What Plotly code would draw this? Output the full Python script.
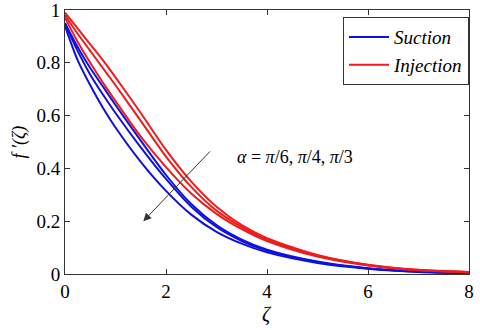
import plotly.graph_objects as go

zeta = [0, 0.25, 0.5, 0.75, 1, 1.5, 2, 2.5, 3, 3.5, 4, 5, 6, 7, 8]

# suction (blue), alpha = pi/6, pi/4, pi/3
suction_1 = [0.94, 0.81, 0.715, 0.63, 0.555, 0.425, 0.315, 0.225, 0.16, 0.115, 0.082, 0.042, 0.020, 0.008, 0.003]
suction_2 = [0.95, 0.845, 0.755, 0.68, 0.61, 0.48, 0.36, 0.255, 0.178, 0.125, 0.088, 0.045, 0.021, 0.009, 0.003]
suction_3 = [0.95, 0.86, 0.78, 0.71, 0.64, 0.505, 0.375, 0.265, 0.185, 0.13, 0.092, 0.047, 0.022, 0.009, 0.004]

# injection (red)
injection_1 = [0.97, 0.88, 0.80, 0.725, 0.655, 0.52, 0.405, 0.305, 0.228, 0.17, 0.125, 0.066, 0.032, 0.014, 0.006]
injection_2 = [0.98, 0.91, 0.845, 0.78, 0.715, 0.58, 0.445, 0.33, 0.24, 0.178, 0.13, 0.069, 0.034, 0.015, 0.007]
injection_3 = [0.99, 0.93, 0.87, 0.81, 0.745, 0.61, 0.47, 0.35, 0.255, 0.185, 0.136, 0.072, 0.035, 0.016, 0.008]

x_ticks = [0, 2, 4, 6, 8]
y_ticks = [0, 0.2, 0.4, 0.6, 0.8, 1]

serif = "Times New Roman, Liberation Serif, Tinos, DejaVu Serif, serif"
blue = "#1010e0"
red = "#ee1c1c"

fig = go.Figure()

for i, ys in enumerate([suction_1, suction_2, suction_3]):
    fig.add_trace(go.Scatter(
        x=zeta, y=ys, mode="lines", line=dict(color=blue, width=2, shape="spline", smoothing=0.8),
        name="<i>Suction</i>", legendgroup="s", showlegend=(i == 0)
    ))

for i, ys in enumerate([injection_1, injection_2, injection_3]):
    fig.add_trace(go.Scatter(
        x=zeta, y=ys, mode="lines", line=dict(color=red, width=2, shape="spline", smoothing=0.8),
        name="<i>Injection</i>", legendgroup="i", showlegend=(i == 0)
    ))

fig.add_annotation(
    x=1.55, y=0.2, ax=2.9, ay=0.47, xref="x", yref="y", axref="x", ayref="y",
    text="", showarrow=True, arrowhead=2, arrowsize=1.6, arrowwidth=1, arrowcolor="#333"
)
fig.add_annotation(
    x=4.55, y=0.445, xref="x", yref="y", showarrow=False,
    text="<i>α</i> = <i>π</i>/6, <i>π</i>/4, <i>π</i>/3",
    font=dict(family=serif, size=18, color="black")
)
# x axis title
fig.add_annotation(
    x=0.5, y=0, xref="paper", yref="paper", yanchor="top", yshift=-27, showarrow=False,
    text="<i>ζ</i>", font=dict(family=serif, size=20, color="black")
)
# y axis title
fig.add_annotation(
    x=0, y=0.5, xref="paper", yref="paper", xanchor="right", xshift=-34, showarrow=False,
    text="<i>f ′(ζ)</i>", textangle=-90, font=dict(family=serif, size=18, color="black")
)

axis_style = dict(
    showline=True, linecolor="#333", linewidth=1, mirror="ticks", automargin=False,
    ticks="inside", ticklen=5, tickcolor="#333", showgrid=False, zeroline=False,
    ticklabeloverflow="allow",
    tickfont=dict(family=serif, size=19, color="black")
)

fig.update_xaxes(range=[0, 8], tickvals=x_ticks, **axis_style)
fig.update_yaxes(range=[0, 1], tickvals=y_ticks, ticktext=["0", "0.2", "0.4", "0.6", "0.8", "1"],
                 **axis_style)

fig.update_layout(
    width=480, height=330,
    margin=dict(l=65, r=11, t=10, b=56, autoexpand=False),
    plot_bgcolor="white", paper_bgcolor="white",
    showlegend=True,
    legend=dict(
        x=1, y=0.973, xanchor="right", yanchor="top",
        bordercolor="#333", borderwidth=1, bgcolor="white",
        font=dict(family=serif, size=19, color="black"),
        tracegroupgap=0, itemwidth=40
    )
)

fig.write_html("out.html", config={"displayModeBar": False},
               post_script="document.body.style.margin='0';")
